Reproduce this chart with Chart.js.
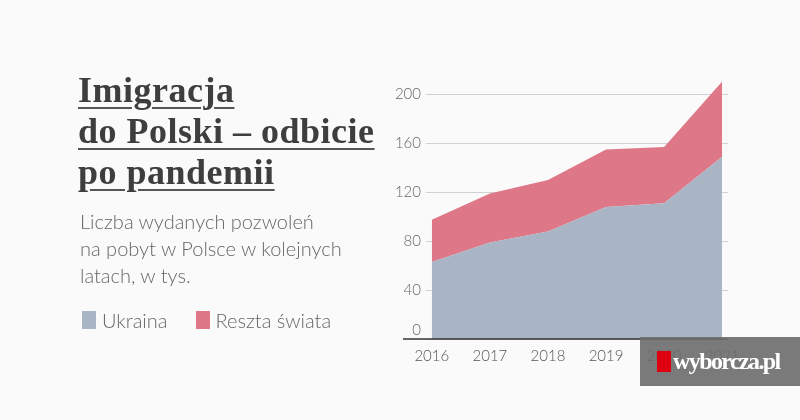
<!DOCTYPE html>
<html>
<head>
<meta charset="utf-8">
<script src="https://cdn.jsdelivr.net/npm/chart.js@4"></script>
<style>
  html, body { margin:0; padding:0; background:#fafafa; }
  body { width:800px; height:420px; position:relative; overflow:hidden; }
  #wrap { position:absolute; left:0; top:0; width:800px; height:420px; }
  .title { position:absolute; left:78px; top:70px; font-family:"Liberation Serif", serif; font-weight:bold;
           font-size:36px; line-height:41px; color:#3e3e3e; letter-spacing:0.5px; }
  .title span { text-decoration:underline; text-decoration-thickness:1.5px; text-underline-offset:5px;
                text-decoration-color:#555; }
  .sub { position:absolute; left:80px; top:208px; font-family:Lato, sans-serif; font-weight:300;
         font-size:20px; line-height:27px; color:#666; }
  .legend { position:absolute; left:82px; top:308px; font-family:Lato, sans-serif; font-weight:300;
            font-size:20px; color:#666; display:flex; }
  .legend .item { display:flex; align-items:center; margin-right:28px; }
  .legend .sw { width:14px; height:18px; margin-right:6px; }
  .logo { position:absolute; left:640px; top:337px; width:160px; height:49px; background:rgba(108,108,108,0.9); }
  .logo .red { position:absolute; left:17px; top:14px; width:14px; height:21px; background:#dd0010; }
  .logo .txt { position:absolute; left:33px; top:9px; font-family:"Liberation Serif", serif; font-weight:bold;
               font-size:24px; letter-spacing:-1.6px; color:#fff; line-height:30px; }
</style>
</head>
<body>
<div id="wrap"><canvas id="c" width="800" height="420"></canvas></div>
<div class="title"><span>Imigracja</span><br><span>do Polski – odbicie</span><br><span>po pandemii</span></div>
<div class="sub">Liczba wydanych pozwoleń<br>na pobyt w Polsce w kolejnych<br>latach, w tys.</div>
<div class="legend" id="legend"></div>
<div class="logo"><div class="red"></div><div class="txt">wyborcza.pl</div></div>
<script>
const years = [2016, 2017, 2018, 2019, 2020, 2021];
const ukraina = [63, 79, 88, 108, 111, 149];
const resztaSwiata = [34.5, 40, 42, 47, 46, 61.5];
const yTicks = [0, 20, 40, 60, 80, 100, 120, 140, 160, 180, 200, 220];
const seriesNames = ['Ukraina', 'Reszta świata'];
const seriesColors = ['#a9b5c4', '#de7888'];

const legend = document.getElementById('legend');
seriesNames.forEach((n, i) => {
  const it = document.createElement('div'); it.className = 'item';
  const sw = document.createElement('div'); sw.className = 'sw'; sw.style.background = seriesColors[i];
  const t = document.createElement('span'); t.textContent = n;
  it.appendChild(sw); it.appendChild(t); legend.appendChild(it);
});

const axisLine = {
  id: 'axisLine',
  afterDraw(chart) {
    const { ctx, chartArea, scales } = chart;
    const y0 = scales.y.getPixelForValue(0);
    ctx.save();
    ctx.strokeStyle = '#333';
    ctx.lineWidth = 1.5;
    ctx.beginPath();
    ctx.moveTo(chartArea.left - 23, y0);
    ctx.lineTo(chartArea.right, y0);
    ctx.stroke();
    ctx.restore();
  }
};

new Chart(document.getElementById('c'), {
  type: 'line',
  data: {
    datasets: [
      { label: seriesNames[0], data: years.map((x, i) => ({ x, y: ukraina[i] })),
        fill: 'origin', backgroundColor: seriesColors[0], borderWidth: 0, pointRadius: 0, tension: 0 },
      { label: seriesNames[1], data: years.map((x, i) => ({ x, y: resztaSwiata[i] })),
        fill: '-1', backgroundColor: seriesColors[1], borderWidth: 0, pointRadius: 0, tension: 0 }
    ]
  },
  options: {
    responsive: false,
    animation: false,
    layout: { padding: { left: 380, right: 72, top: 70, bottom: 51 } },
    plugins: { legend: { display: false }, tooltip: { enabled: false } },
    scales: {
      x: {
        type: 'linear', min: 2015.9, max: 2021.1,
        afterBuildTicks(s) { s.ticks = years.map(v => ({ value: v })); },
        afterFit(s) { s.height = 30; },
        grid: { display: false },
        border: { display: false },
        ticks: { color: '#555', font: { family: 'Lato', size: 15, weight: '300' }, padding: 0,
                 callback: v => String(v) }
      },
      y: {
        stacked: true, min: 0, max: 220, z: 1,
        afterBuildTicks(s) { s.ticks = yTicks.map(v => ({ value: v })); },
        afterFit(s) { s.width = 46; },
        grid: { color: 'rgba(0,0,0,0.16)', lineWidth: 1, drawTicks: false },
        border: { display: false },
        ticks: { color: '#666', font: { family: 'Lato', size: 15, weight: '300' }, padding: 5,
                 callback: v => v === 0 ? ['0', ''] : (v % 40 === 0 ? String(v) : '') }
      }
    }
  },
  plugins: [axisLine]
});
</script>
</body>
</html>
